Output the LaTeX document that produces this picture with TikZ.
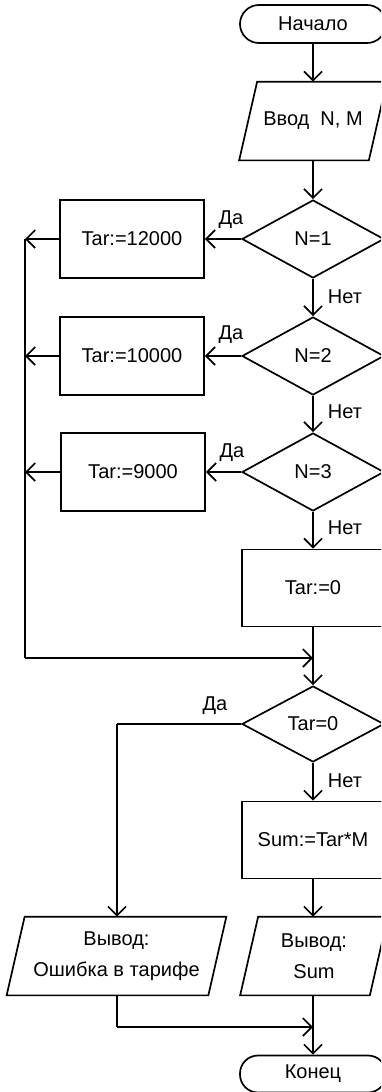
\documentclass[tikz,border=0pt]{standalone}
\usepackage{fontspec}
\setmainfont{Liberation Sans}
\usetikzlibrary{shapes.geometric,arrows.meta}
\newcommand\iobox[1]{\draw ([xshift=9pt]#1.north west) -- ([xshift=9pt]#1.north east) -- ([xshift=-9pt]#1.south east) -- ([xshift=-9pt]#1.south west) -- cycle;}
\begin{document}
\begin{tikzpicture}[x=1pt,y=-1pt,
  line width=1.7pt,
  every node/.style={font=\fontsize{20}{31}\selectfont},
  arr/.style={-{Straight Barb[length=9pt,width=18pt,line width=1.7pt]}},
  term/.style={draw, rectangle, rounded corners=19pt, minimum width=146pt, minimum height=38pt, inner sep=0pt},
  proc/.style={draw, rectangle, minimum width=144pt, minimum height=78pt, inner sep=0pt},
  dec/.style={draw, diamond, minimum width=142pt, minimum height=78pt, inner sep=0pt},
  io/.style={rectangle, minimum width=#1, minimum height=77pt, inner sep=0pt, align=center},
  lbl/.style={inner sep=0pt}
]
\useasboundingbox (0,0) rectangle (381,1092);
\clip (0,0) rectangle (381,1092);

\node[term] (start) at (313,24) {Начало};
\node[io=128pt] (in) at (313,121) {Ввод\ \ N, M};
\iobox{in}
\node[dec] (d1) at (313,239) {N=1};
\node[proc] (b1) at (132,239) {Tar:=12000};
\node[dec] (d2) at (313,356) {N=2};
\node[proc] (b2) at (132,356) {Tar:=10000};
\node[dec] (d3) at (313,472) {N=3};
\node[proc] (b3) at (133,472) {Tar:=9000};
\node[proc, minimum width=142pt, minimum height=77pt] (b0) at (313,588) {Tar:=0};
\node[dec, minimum height=76pt] (d4) at (313,724) {Tar=0};
\node[proc, minimum width=142pt, minimum height=77pt] (sum) at (313,840) {Sum:=Tar*M};
\node[io=200pt] (out1) at (116.5,956) {Вывод:\\Ошибка в тарифе};
\iobox{out1}
\node[io=128pt] (out2) at (314,956) {Вывод:\\Sum};
\iobox{out2}
\node[term, minimum height=37pt, rounded corners=18pt] (end) at (313,1074) {Конец};

\node[lbl] (da1) at (231,220) {Да};
\node[lbl] (da2) at (231,335) {Да};
\node[lbl] (da3) at (232,453) {Да};
\node[lbl] (da4) at (215,706) {Да};
\node[lbl] (net1) at (345,297) {Нет};
\node[lbl] (net2) at (345,412) {Нет};
\node[lbl] (net3) at (345,528) {Нет};
\node[lbl] (net4) at (345,781) {Нет};

\coordinate (L1) at (25,239);
\coordinate (L2) at (25,356);
\coordinate (L3) at (25,472);
\coordinate (Lb) at (25,658);
\coordinate (J1) at (313,658);
\coordinate (Y) at (117,724);
\coordinate (Z) at (117,1027);
\coordinate (J2) at (313,1027);

\draw[arr] (start.south) -- (in.north);
\draw[arr] (in.south) -- (d1.north);
\draw[arr] (d1.west) -- (b1.east);
\draw[arr] (d1.south) -- (d2.north);
\draw[arr] (d2.west) -- (b2.east);
\draw[arr] (d2.south) -- (d3.north);
\draw[arr] (d3.west) -- (b3.east);
\draw[arr] (d3.south) -- (b0.north);
\draw[arr] (b1.west) -- (L1);
\draw[arr] (b2.west) -- (L2);
\draw[arr] (b3.west) -- (L3);
\draw (L1) -- (Lb);
\draw[arr] (Lb) -- (J1);
\draw (b0.south) -- (J1);
\draw[arr] (J1) -- (d4.north);
\draw (d4.west) -- (Y);
\draw[arr] (Y) -- (Y |- out1.north);
\draw[arr] (d4.south) -- (sum.north);
\draw[arr] (sum.south) -- (sum.south |- out2.north);
\draw (Y |- out1.south) -- (Z);
\draw[arr] (Z) -- (J2);
\draw (sum.south |- out2.south) -- (J2);
\draw[arr] (J2) -- (end.north);
\end{tikzpicture}
\end{document}
